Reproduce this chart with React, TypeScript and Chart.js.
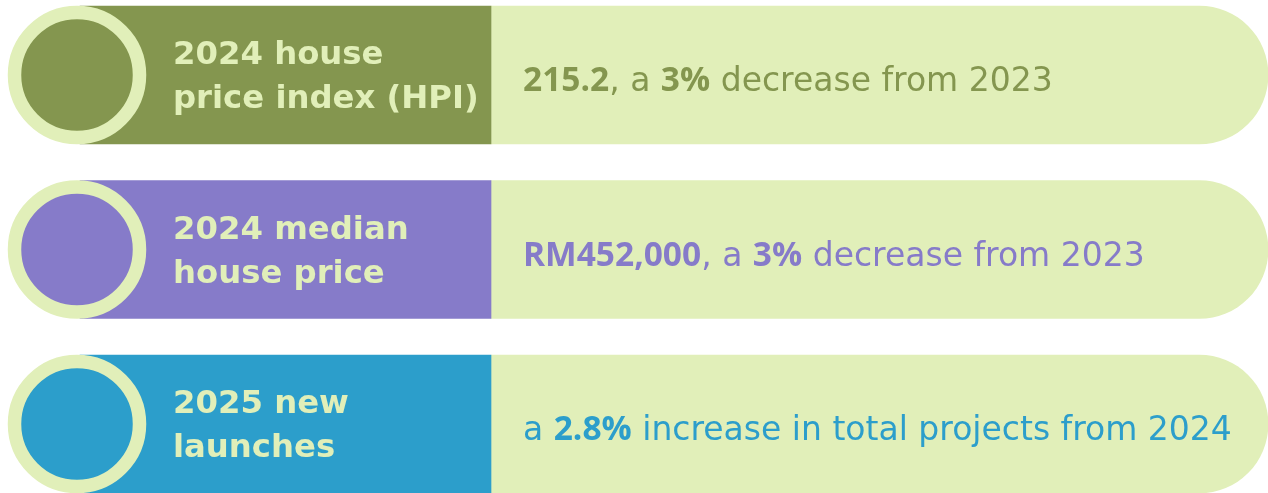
import React, { useEffect, useRef } from "react";
import { Chart, registerables } from "chart.js";

Chart.register(...registerables);

// ---- data ----
const categories = ["House price index", "Median house price", "New launches"];
const titleLines: string[][] = [
  ["2024 house", "price index (HPI)"],
  ["2024 median", "house price"],
  ["2025 new", "launches"],
];
type Seg = { t: string; b?: boolean };
const valueTexts: Seg[][] = [
  [{ t: "215.2", b: true }, { t: ", a " }, { t: "3%", b: true }, { t: " decrease from 2023" }],
  [{ t: "RM452,000", b: true }, { t: ", a " }, { t: "3%", b: true }, { t: " decrease from 2023" }],
  [{ t: "a " }, { t: "2.8%", b: true }, { t: " increase in total projects from 2024" }],
];
const rowColors = ["#84964f", "#867bc9", "#2c9ecb"];
const LIGHT = "#e1efb9";

// ---- layout (in x-axis units == pixels) ----
const X_MAX = 1268;
const PANEL_START = 80;
const PANEL_SPLIT = 491;
const PANEL_END = 1268;
const BADGE_X = 77;
const BAR_THICK = 138;
const TITLE_X = 173;
const VALUE_X = 523;

const TITLE_FONT = '700 32.3px "DejaVu Sans", sans-serif';
const REG_FONT = '400 33px "DejaVu Sans", sans-serif';
const BOLD_FONT = '700 33.5px "Open Sans", sans-serif';

const textPlugin = {
  id: "rowText",
  afterDatasetsDraw(chart: any) {
    const ctx = chart.ctx as CanvasRenderingContext2D;
    const xs = chart.scales.x;
    const ys = chart.scales.y;
    ctx.save();
    ctx.textBaseline = "alphabetic";
    ctx.textAlign = "left";
    categories.forEach((_, i) => {
      const cy = ys.getPixelForValue(i);
      // titles
      ctx.fillStyle = LIGHT;
      ctx.font = TITLE_FONT;
      const tx = xs.getPixelForValue(TITLE_X);
      ctx.fillText(titleLines[i][0], tx, cy - 11);
      ctx.fillText(titleLines[i][1], tx, cy + 33);
      // value sentence
      let vx = xs.getPixelForValue(VALUE_X);
      ctx.fillStyle = rowColors[i];
      for (const s of valueTexts[i]) {
        ctx.font = s.b ? BOLD_FONT : REG_FONT;
        ctx.fillText(s.t, vx, cy + 16);
        vx += ctx.measureText(s.t).width;
      }
    });
    ctx.restore();
  },
};

export default function App() {
  const ref = useRef<HTMLCanvasElement>(null);
  useEffect(() => {
    if (!ref.current) return;
    const idx = categories.map((_, i) => i);
    const chart = new Chart(ref.current, {
      type: "bar",
      data: {
        datasets: [
          {
            type: "bubble",
            label: "badge",
            order: 0,
            data: idx.map((i) => ({ x: BADGE_X, y: i, r: 62.5 })),
            backgroundColor: rowColors,
            borderColor: LIGHT,
            borderWidth: 13.5,
            hoverRadius: 0,
            clip: false,
          } as any,
          {
            type: "bar",
            label: "title panel",
            order: 1,
            stack: "row",
            data: idx.map((i) => ({ x: [PANEL_START, PANEL_SPLIT], y: i })),
            backgroundColor: rowColors,
            borderWidth: 0,
            borderSkipped: false,
            barThickness: BAR_THICK,
          } as any,
          {
            type: "bar",
            label: "value panel",
            order: 2,
            stack: "row",
            data: idx.map((i) => ({ x: [PANEL_SPLIT, PANEL_END], y: i })),
            backgroundColor: LIGHT,
            borderWidth: 0,
            borderSkipped: false,
            borderRadius: { topLeft: 0, bottomLeft: 0, topRight: BAR_THICK / 2, bottomRight: BAR_THICK / 2 },
            barThickness: BAR_THICK,
          } as any,
        ],
      },
      options: {
        indexAxis: "y",
        animation: false,
        responsive: false,
        events: [],
        layout: { padding: 0, autoPadding: false },
        plugins: { legend: { display: false }, tooltip: { enabled: false }, title: { display: false } },
        scales: {
          x: { type: "linear", min: 0, max: X_MAX, display: false, stacked: false, offset: false },
          y: {
            type: "linear",
            min: -0.4298,
            max: 2.3954,
            reverse: true,
            display: false,
            stacked: true,
            offset: false,
            grid: { offset: false },
          },
        },
      } as any,
      plugins: [textPlugin],
    });
    return () => chart.destroy();
  }, []);
  return (
    <div style={{ position: "absolute", left: 0, top: 0, width: 1268, height: 493 }}>
      <canvas ref={ref} width={1268} height={493} style={{ display: "block" }} />
    </div>
  );
}
